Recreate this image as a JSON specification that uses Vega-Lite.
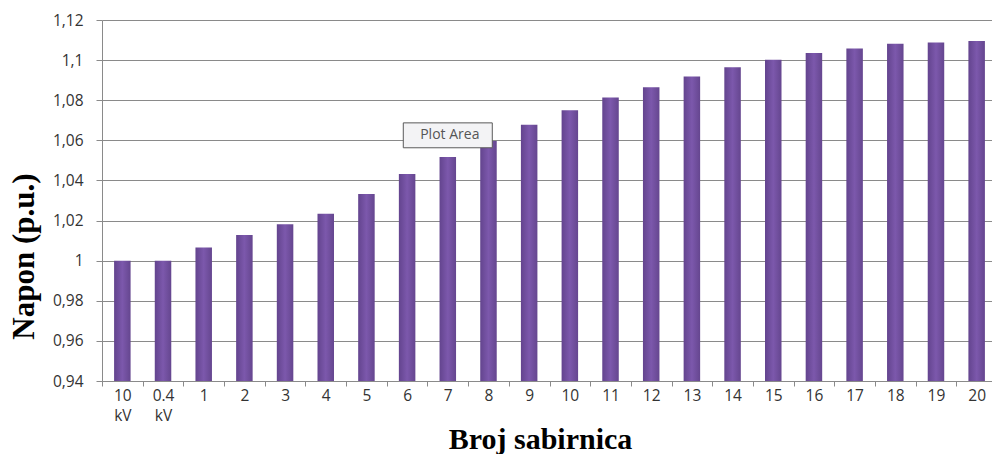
{
  "$schema": "https://vega.github.io/schema/vega-lite/v6.json",
  "width": 895,
  "height": 361,
  "autosize": {"type": "none"},
  "padding": {"left": 102, "top": 20, "right": 0, "bottom": 73},
  "background": "#ffffff",
  "config": {"view": {"stroke": null}},
  "datasets": {
    "bars": [
      {"bus": "10 kV", "napon": 1.0},
      {"bus": "0.4 kV", "napon": 1.0},
      {"bus": "1", "napon": 1.0066},
      {"bus": "2", "napon": 1.0128},
      {"bus": "3", "napon": 1.0181},
      {"bus": "4", "napon": 1.0234},
      {"bus": "5", "napon": 1.0333},
      {"bus": "6", "napon": 1.0432},
      {"bus": "7", "napon": 1.0517},
      {"bus": "8", "napon": 1.0597},
      {"bus": "9", "napon": 1.0678},
      {"bus": "10", "napon": 1.075},
      {"bus": "11", "napon": 1.0813},
      {"bus": "12", "napon": 1.0865},
      {"bus": "13", "napon": 1.0918},
      {"bus": "14", "napon": 1.0965},
      {"bus": "15", "napon": 1.1002},
      {"bus": "16", "napon": 1.1035},
      {"bus": "17", "napon": 1.1058},
      {"bus": "18", "napon": 1.1082},
      {"bus": "19", "napon": 1.1088},
      {"bus": "20", "napon": 1.1095}
    ],
    "tip": [{"bus": "7", "napon": 1.0625, "label": "Plot Area"}]
  },
  "layer": [
    {
      "data": {"name": "bars"},
      "mark": {
        "type": "bar",
        "width": 16.5,
        "color": {
          "gradient": "linear",
          "x1": 0, "x2": 1, "y1": 0, "y2": 0,
          "stops": [
            {"offset": 0, "color": "#63448e"},
            {"offset": 0.5, "color": "#7c58ac"},
            {"offset": 1, "color": "#65468f"}
          ]
        }
      },
      "encoding": {
        "x": {
          "field": "bus",
          "type": "nominal",
          "sort": null,
          "scale": {"paddingInner": 0, "paddingOuter": 0},
          "axis": {
            "title": "Broj sabirnica",
            "titleFont": "Liberation Serif",
            "titleFontSize": 30,
            "titleFontWeight": "bold",
            "titleColor": "#000000",
            "titleX": 438,
            "titleY": 58,
            "titleBaseline": "middle",
            "titleAlign": "center",
            "labelExpr": "split(datum.label, ' ')",
            "labelFont": "Open Sans",
            "labelFontSize": 15.5,
            "labelColor": "#333333",
            "labelAngle": 0,
            "labelPadding": 2,
            "labelLineHeight": 20,
            "labelBaseline": "top",
            "tickBand": "extent",
            "tickSize": 5,
            "tickColor": "#8a8a8a",
            "domainColor": "#8a8a8a",
            "grid": false
          }
        },
        "y": {
          "field": "napon",
          "type": "quantitative",
          "scale": {"domain": [0.94, 1.12], "zero": false, "nice": false},
          "axis": {
            "title": "Napon (p.u.)",
            "titleFont": "Liberation Serif",
            "titleFontSize": 31,
            "titleFontWeight": "bold",
            "titleColor": "#000000",
            "titleAngle": -90,
            "titleX": -78,
            "titleY": 236,
            "titleAlign": "center",
            "titleBaseline": "middle",
            "values": [0.94, 0.96, 0.98, 1.0, 1.02, 1.04, 1.06, 1.08, 1.1, 1.12],
            "labelExpr": "replace(format(datum.value, '.2~f'), '.', ',')",
            "labelFont": "Open Sans",
            "labelFontSize": 15.5,
            "labelColor": "#333333",
            "labelPadding": 13,
            "tickSize": 6,
            "tickColor": "#8a8a8a",
            "domainColor": "#8a8a8a",
            "grid": true,
            "gridColor": "#8a8a8a",
            "gridWidth": 1
          }
        },
        "y2": {"datum": 0.94}
      }
    },
    {
      "data": {"name": "tip"},
      "mark": {
        "type": "point",
        "shape": "M-1,-0.28H1V0.28H-1Z",
        "size": 7921,
        "filled": true,
        "fill": "#f3f3f5",
        "stroke": "#5a5a5a",
        "strokeWidth": 1,
        "opacity": 1
      },
      "encoding": {
        "x": {"field": "bus", "type": "nominal", "sort": null},
        "y": {"field": "napon", "type": "quantitative"}
      }
    },
    {
      "data": {"name": "tip"},
      "mark": {"type": "text", "font": "Open Sans", "fontSize": 14, "color": "#555555", "dx": 2},
      "encoding": {
        "x": {"field": "bus", "type": "nominal", "sort": null},
        "y": {"field": "napon", "type": "quantitative"},
        "text": {"field": "label"}
      }
    }
  ]
}
